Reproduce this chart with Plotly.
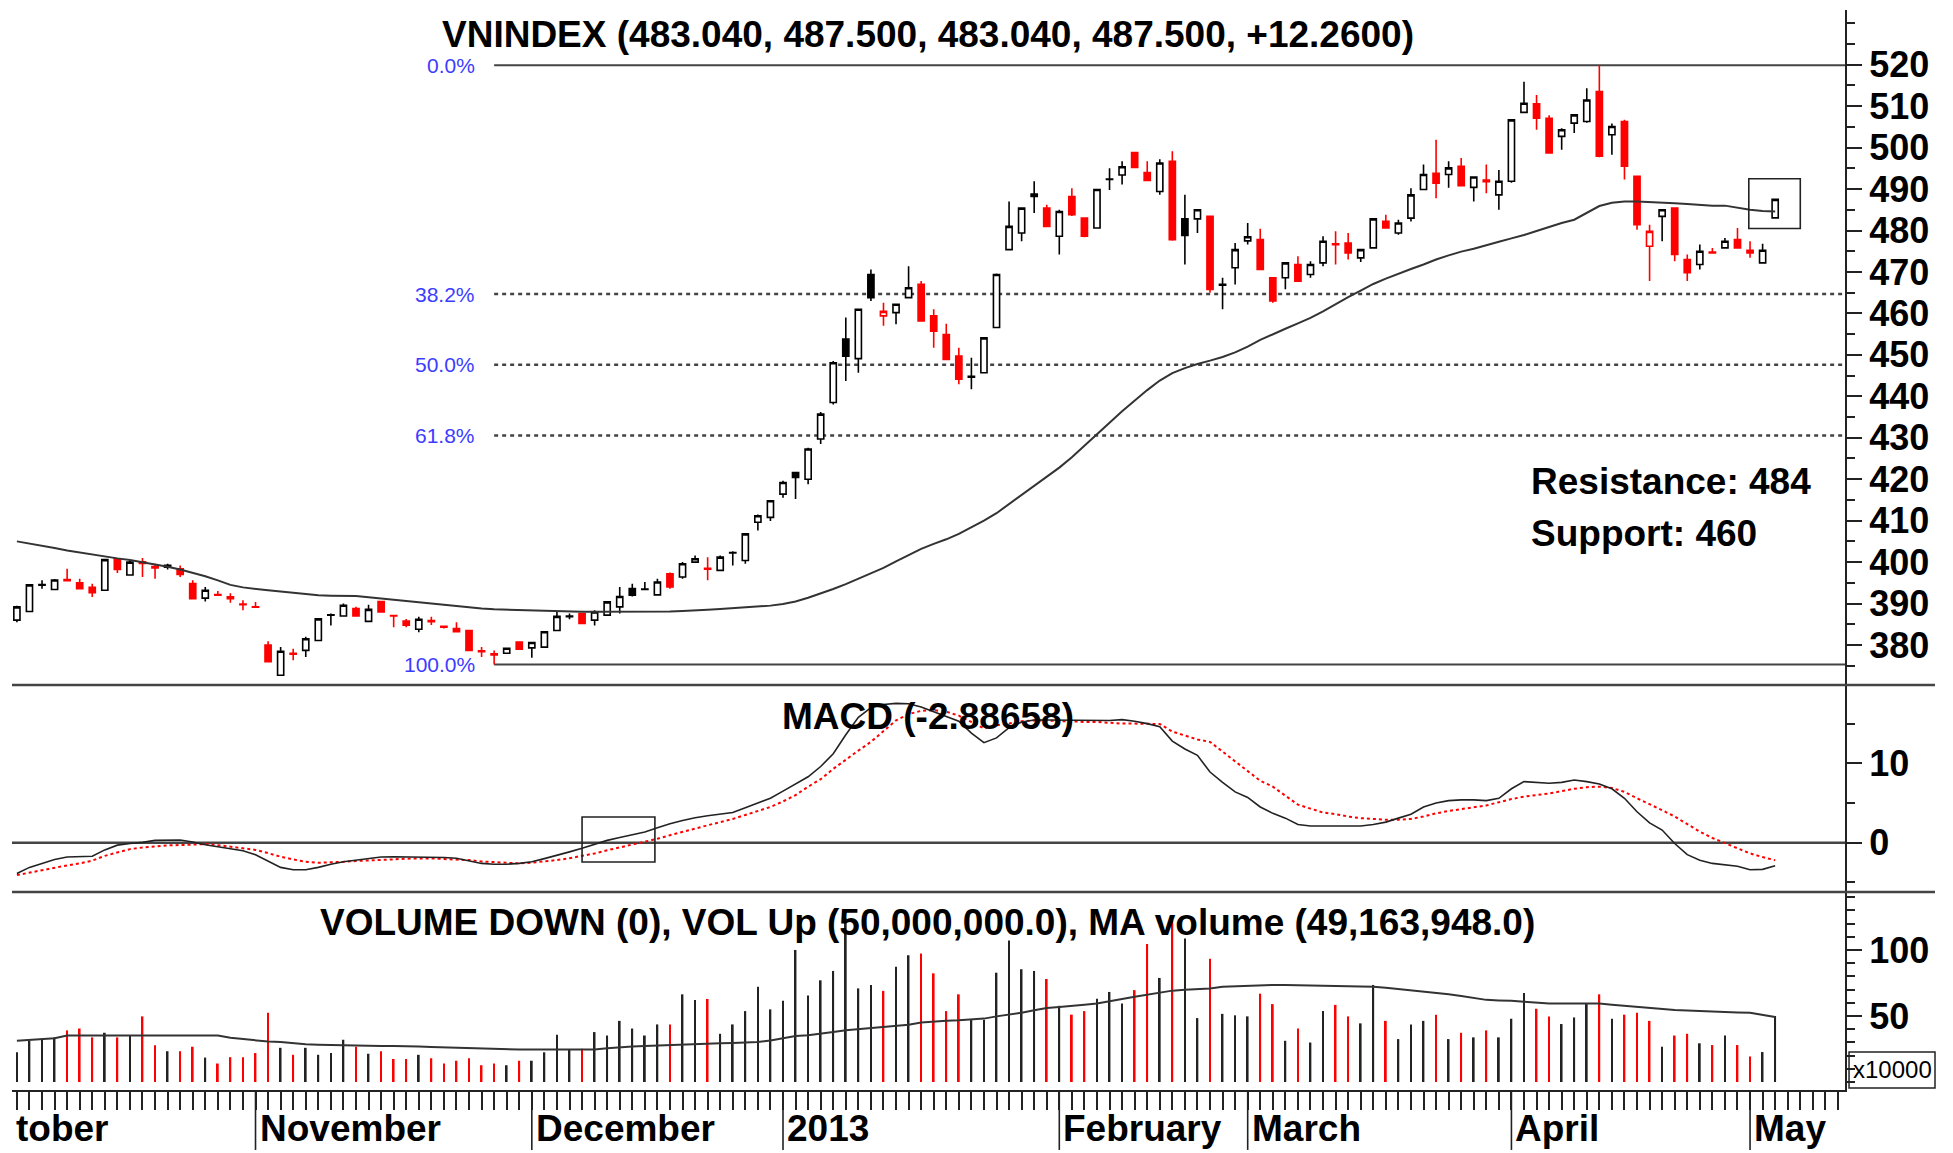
import plotly.graph_objects as go

# ---------------- data ----------------
open_ = [386.0, 388.1, 394.4, 393.4, 395.8, 395.0, 393.9, 393.2, 400.8, 396.9,
         400.1, 398.9, 399.2, 398.4, 394.8, 391.3, 392.2, 391.6, 389.9, 389.2,
         380.0, 372.7, 378.0, 378.7, 381.1, 387.2, 387.0, 388.8, 385.7, 390.5,
         387.1, 385.8, 383.8, 385.9, 384.5, 384.0, 383.5, 378.6, 377.9, 378.0,
         380.7, 379.3, 379.5, 383.5, 386.8, 387.6, 386.0, 387.2, 389.2, 393.6,
         393.4, 392.1, 397.2, 396.4, 400.0, 398.5, 398.0, 402.2, 400.4, 409.6,
         410.8, 416.4, 421.6, 420.0, 429.7, 438.5, 453.8, 449.1, 469.4, 459.4,
         460.2, 463.8, 467.0, 459.4, 454.9, 449.7, 444.6, 445.7, 456.6, 475.4,
         479.4, 488.2, 485.4, 478.6, 488.2, 483.0, 480.6, 492.3, 493.4, 498.8,
         494.0, 489.4, 496.7, 482.8, 482.8, 483.4, 466.8, 471.0, 477.5, 477.8,
         468.6, 468.6, 471.8, 469.4, 472.2, 476.8, 477.0, 473.4, 475.8, 482.2,
         479.4, 483.0, 489.9, 493.8, 493.5, 495.5, 490.4, 492.2, 488.6, 491.9,
         508.5, 510.6, 507.1, 502.7, 505.9, 506.3, 513.5, 503.1, 506.3, 493.1,
         476.2, 483.4, 485.4, 473.0, 471.8, 474.8, 475.8, 477.8, 475.2, 472.2,
         483.04]
high = [389.5, 394.7, 395.6, 395.9, 398.4, 396.0, 394.8, 400.8, 401.0, 400.3,
        401.0, 399.6, 399.6, 399.2, 395.6, 394.0, 393.0, 392.5, 390.8, 390.4,
        380.9, 379.5, 379.1, 382.0, 386.5, 387.6, 390.0, 389.2, 389.7, 390.6,
        387.3, 386.3, 386.8, 386.8, 384.7, 385.5, 383.6, 379.5, 378.7, 379.3,
        380.9, 380.8, 383.4, 388.0, 387.6, 387.8, 388.4, 390.6, 394.0, 394.8,
        395.2, 396.0, 397.5, 400.0, 401.6, 401.2, 401.6, 402.6, 407.0, 411.5,
        415.0, 419.6, 421.8, 427.6, 436.2, 448.5, 459.0, 461.2, 470.6, 462.6,
        462.4, 471.4, 467.8, 461.0, 457.5, 451.7, 449.3, 454.3, 469.6, 487.0,
        485.6, 491.9, 486.2, 485.0, 490.2, 483.2, 490.1, 495.0, 496.7, 499.0,
        496.7, 497.2, 499.1, 488.6, 485.2, 483.6, 468.6, 477.0, 481.8, 480.4,
        468.8, 472.4, 473.8, 472.6, 478.6, 479.8, 479.4, 475.6, 483.0, 483.8,
        482.6, 490.2, 495.9, 501.9, 496.7, 497.5, 492.9, 495.9, 494.6, 506.9,
        515.9, 512.7, 507.8, 504.7, 508.1, 514.3, 519.9, 505.8, 506.7, 493.3,
        481.4, 485.2, 485.6, 474.2, 476.6, 475.8, 478.2, 480.6, 477.4, 476.8,
        487.5]
low = [385.5, 388.0, 393.6, 393.2, 395.3, 393.4, 391.6, 393.0, 397.4, 396.7,
       396.4, 396.0, 398.2, 396.4, 391.0, 390.5, 391.9, 390.2, 388.4, 389.0,
       375.9, 372.5, 376.3, 377.1, 380.9, 384.7, 386.8, 386.9, 385.5, 387.9,
       384.3, 384.3, 383.1, 384.8, 384.0, 383.0, 378.5, 377.1, 375.3, 378.0,
       378.8, 376.9, 379.3, 383.3, 386.2, 385.0, 384.7, 387.0, 387.6, 391.7,
       393.2, 392.0, 393.6, 396.0, 399.8, 395.6, 397.9, 399.2, 399.6, 407.6,
       409.9, 415.5, 415.2, 418.8, 428.5, 438.0, 443.7, 445.7, 463.0, 457.0,
       457.4, 463.6, 458.0, 451.7, 448.7, 442.9, 441.7, 445.5, 456.4, 475.3,
       477.4, 484.2, 480.8, 474.2, 483.5, 478.4, 480.4, 489.8, 491.1, 495.0,
       491.9, 488.6, 477.5, 471.8, 479.4, 465.0, 461.0, 467.0, 476.6, 470.4,
       462.6, 465.8, 467.6, 468.6, 471.4, 471.8, 473.0, 472.4, 475.6, 480.4,
       479.0, 482.2, 489.7, 487.8, 490.3, 490.6, 487.0, 489.0, 485.0, 491.5,
       508.3, 504.3, 498.5, 499.5, 503.5, 506.0, 497.7, 498.3, 492.3, 480.2,
       467.8, 477.4, 472.6, 467.8, 470.6, 474.5, 475.7, 475.6, 473.4, 472.0,
       483.04]
close = [389.2, 394.5, 394.6, 395.7, 395.5, 393.6, 392.6, 400.6, 398.2, 400.0,
         399.7, 398.6, 398.8, 397.0, 391.2, 393.2, 392.0, 391.2, 389.7, 389.1,
         376.0, 378.5, 377.8, 381.5, 386.3, 387.3, 389.6, 387.0, 388.6, 388.0,
         387.0, 384.8, 386.2, 385.6, 384.3, 383.2, 378.7, 378.4, 377.6, 379.2,
         379.0, 380.6, 383.2, 386.9, 387.0, 385.2, 388.0, 390.4, 391.7, 392.0,
         393.5, 395.2, 394.0, 399.6, 400.8, 398.3, 401.2, 402.3, 406.8, 411.2,
         414.8, 419.2, 420.4, 427.3, 435.7, 448.1, 449.7, 461.0, 463.8, 460.5,
         462.2, 466.2, 458.2, 455.7, 448.9, 444.1, 444.8, 454.1, 469.4, 481.0,
         485.4, 488.8, 481.0, 484.6, 483.8, 478.6, 489.9, 492.4, 495.4, 495.2,
         492.1, 496.3, 477.8, 478.8, 485.0, 465.8, 467.0, 475.4, 478.5, 470.6,
         463.0, 472.2, 467.8, 471.8, 477.4, 476.6, 474.6, 475.4, 482.8, 480.6,
         481.8, 488.6, 493.5, 491.4, 495.1, 490.8, 492.9, 491.8, 491.9, 506.7,
         510.7, 507.1, 498.7, 504.3, 507.9, 511.5, 497.9, 505.1, 495.5, 481.4,
         479.8, 485.0, 474.2, 469.8, 475.0, 474.6, 477.4, 475.8, 474.6, 475.24,
         487.5]
ma_price = [405.0, 404.5, 404.0, 403.4, 402.8, 402.3, 401.8, 401.4, 400.9, 400.5,
            400.0, 399.5, 398.9, 398.2, 397.4, 396.6, 395.6, 394.5, 393.9, 393.5,
            393.2, 392.9, 392.6, 392.3, 392.0, 391.9, 391.9, 391.8, 391.5, 391.2,
            390.9, 390.6, 390.3, 390.0, 389.7, 389.4, 389.0, 388.8, 388.6, 388.5,
            388.4, 388.4, 388.3, 388.2, 388.1, 388.0, 388.0, 388.0, 388.0, 388.0,
            388.1, 388.1, 388.1, 388.2, 388.3, 388.5, 388.7, 388.9, 389.0, 389.2,
            389.5, 389.9, 390.5, 391.4, 392.4, 393.5, 394.7, 396.0, 397.2, 398.6,
            400.2, 401.8, 403.2, 404.4, 405.5, 406.8, 408.3, 410.0, 411.8, 414.0,
            416.3, 418.6, 420.8, 422.8, 425.3, 428.0, 430.8, 433.6, 436.4, 439.0,
            441.5, 443.8, 445.6, 446.8, 447.8, 448.6, 449.5, 450.6, 452.0, 453.6,
            455.0, 456.3, 457.6, 458.9, 460.5, 462.3, 463.9, 465.5, 467.1, 468.4,
            469.6, 470.7, 471.8, 473.0, 474.0, 474.9, 475.6, 476.5, 477.3, 478.1,
            478.9, 479.9, 480.9, 481.8, 482.6, 484.2, 485.9, 486.7, 487.0, 487.0,
            486.9, 486.8, 486.6, 486.4, 486.2, 486.0, 486.0, 485.5, 485.0, 484.7,
            484.6]
macd = [-3.86, -3.1, -2.6, -2.1, -1.8, -1.76, -1.7, -0.9, -0.3, -0.1,
        0.05, 0.3, 0.35, 0.35, 0.1, -0.25, -0.5, -0.75, -1.0, -1.5,
        -2.3, -3.1, -3.4, -3.4, -3.1, -2.7, -2.4, -2.2, -2.0, -1.8,
        -1.76, -1.76, -1.76, -1.76, -1.85, -1.95, -2.3, -2.6, -2.7, -2.7,
        -2.6, -2.4, -2.0, -1.6, -1.15, -0.7, -0.15, 0.3, 0.65, 1.0,
        1.35, 1.9, 2.4, 2.8, 3.15, 3.4, 3.6, 3.8, 4.4, 5.0,
        5.6, 6.5, 7.4, 8.3, 9.6, 11.2, 13.6, 15.8, 17.0, 17.4,
        17.55, 17.5, 17.1, 16.5, 15.9, 15.3, 13.8, 12.6, 13.2, 14.5,
        15.2, 15.45, 15.45, 15.45, 15.45, 15.4, 15.37, 15.4, 15.5, 15.3,
        15.0, 14.6, 12.8, 11.8, 11.0, 8.9, 7.6, 6.4, 5.7, 4.5,
        3.7, 3.1, 2.3, 2.1, 2.1, 2.1, 2.1, 2.1, 2.3, 2.6,
        3.1, 3.6, 4.5, 5.0, 5.3, 5.4, 5.4, 5.3, 5.6, 6.8,
        7.7, 7.6, 7.5, 7.6, 7.9, 7.7, 7.4, 6.8, 5.6, 3.9,
        2.5, 1.6, -0.1, -1.5, -2.2, -2.6, -2.75, -2.95, -3.4, -3.35,
        -2.88658]
signal = [-4.07, -3.75, -3.4, -3.1, -2.85, -2.6, -2.25, -1.65, -1.2, -0.8,
          -0.6, -0.45, -0.33, -0.29, -0.2, -0.17, -0.3, -0.5, -0.65, -0.9,
          -1.3, -1.76, -2.1, -2.4, -2.52, -2.5, -2.4, -2.3, -2.26, -2.2,
          -2.1, -2.0, -1.97, -1.97, -2.05, -2.1, -2.18, -2.35, -2.45, -2.55,
          -2.6, -2.5, -2.35, -2.18, -1.95, -1.65, -1.34, -0.95, -0.6, -0.25,
          0.1, 0.5, 0.95, 1.39, 1.8, 2.2, 2.6, 3.0, 3.5, 4.0,
          4.5, 5.2, 6.0, 7.06, 8.0, 9.3, 10.5, 11.6, 12.7, 14.1,
          15.4, 16.2, 16.6, 16.7, 16.5, 16.0, 15.2, 14.4, 14.8, 15.0,
          15.3, 15.4, 15.4, 15.3, 15.3, 15.2, 15.2, 15.1, 15.0, 15.0,
          15.0, 14.95, 14.0, 13.5, 13.0, 12.7, 11.5, 10.2, 9.0, 7.8,
          7.06, 5.9, 4.8, 4.3, 3.8, 3.6, 3.3, 3.1, 3.0, 2.9,
          2.9, 3.0, 3.3, 3.7, 4.0, 4.25, 4.5, 4.7, 5.1, 5.5,
          5.8, 6.0, 6.2, 6.5, 6.8, 7.0, 7.06, 6.9, 6.4, 5.6,
          4.9, 4.1, 3.3, 2.3, 1.4, 0.6, -0.08, -0.7, -1.34, -1.8,
          -2.2]
volume = [22.5, 31.2, 33.0, 33.8, 39.1, 40.5, 33.8, 37.3, 33.8, 35.2,
          49.7, 27.8, 23.3, 23.3, 26.7, 18.5, 14.0, 18.8, 18.8, 21.9,
          52.4, 25.9, 20.6, 25.9, 20.6, 21.9, 32.0, 26.7, 21.4, 23.3,
          17.4, 17.4, 20.6, 18.0, 14.0, 16.1, 18.0, 12.7, 14.0, 12.7,
          16.1, 16.1, 22.5, 35.7, 24.6, 25.1, 37.8, 35.2, 46.3, 40.5,
          35.2, 43.6, 43.6, 66.4, 62.1, 62.9, 36.5, 43.6, 53.7, 72.2,
          55.0, 61.6, 100.0, 65.6, 77.0, 84.1, 124.0, 70.9, 73.5, 69.0,
          87.3, 96.0, 97.3, 82.3, 53.7, 66.4, 47.5, 47.1, 82.8, 107.1,
          85.4, 84.1, 78.0, 57.7, 51.0, 53.7, 63.0, 68.2, 59.5, 69.6,
          104.5, 78.8, 126.4, 108.7, 48.4, 93.4, 51.6, 50.5, 49.7, 66.9,
          59.0, 31.2, 40.5, 29.9, 53.7, 58.4, 49.7, 44.4, 73.5, 46.3,
          32.5, 43.6, 46.3, 51.0, 32.5, 37.3, 33.8, 39.1, 33.8, 47.9,
          67.4, 55.5, 49.7, 43.9, 48.9, 59.5, 66.4, 47.9, 51.0, 52.4,
          46.3, 26.7, 35.2, 36.5, 29.3, 28.0, 35.2, 28.0, 19.3, 22.7,
          50.0]
ma_volume = [31.2, 31.8, 32.5, 33.1, 35.2, 35.2, 35.2, 35.2, 35.2, 35.2,
             35.2, 35.2, 35.2, 35.2, 35.2, 35.2, 35.2, 33.5, 32.5, 32.0,
             30.6, 30.2, 29.2, 28.6, 28.3, 28.0, 27.8, 27.6, 27.4, 27.3,
             27.2, 27.2, 26.8, 26.5, 26.2, 26.0, 25.8, 25.2, 24.8, 24.6,
             24.6, 24.6, 24.6, 24.6, 24.6, 24.6, 24.6, 25.5, 26.3, 26.8,
             27.2, 27.6, 28.1, 28.6, 29.1, 29.2, 29.4, 29.6, 29.8, 30.3,
             31.5, 33.0, 34.8, 35.5, 36.5, 37.8, 39.2, 40.0, 41.0, 42.0,
             42.7, 43.3, 45.0, 45.8, 46.3, 46.7, 47.1, 48.0, 49.7, 51.0,
             52.4, 54.3, 56.0, 56.8, 57.5, 58.6, 59.5, 61.0, 62.8, 64.6,
             66.3, 68.0, 69.2, 69.9, 70.5, 70.9, 72.2, 72.6, 73.0, 73.3,
             73.5, 73.5, 73.4, 73.3, 73.1, 72.9, 72.6, 72.3, 72.2, 71.4,
             70.5, 69.6, 68.6, 67.5, 66.5, 65.1, 63.8, 62.2, 61.8, 61.6,
             60.8, 60.1, 59.5, 59.5, 59.5, 59.5, 59.5, 58.6, 57.7, 56.9,
             55.9, 55.0, 54.6, 54.2, 53.7, 53.4, 53.0, 52.7, 52.4, 51.0,
             49.163948]

price_ticks = [380, 390, 400, 410, 420, 430, 440, 450, 460, 470, 480, 490, 500, 510, 520]
macd_ticks = [0, 10]
volume_ticks = [50, 100]
month_pos = [19, 41, 61, 83, 98, 119, 138]
month_labels = ["November", "December", "2013", "February", "March", "April", "May"]
first_label = "tober"
fib_levels = [0.0, 38.2, 50.0, 61.8, 100.0]
fib_start = 38          # candle whose low anchors the retracement
resistance = 484
support = 460

# ---------------- layout constants ----------------
W, H = 1953, 1153
XR = [-0.39, 145.56]
SANS = "Liberation Sans, Arial, sans-serif"
RED = "#ff0000"
BLUE = "#3c3cff"
D_PRICE = [0.37156, 0.99083]
D_MACD = [0.18165, 0.37156]
D_VOL = [0.0, 0.18165]
BIG = 37

n = len(close)
idx = list(range(n))
is_up = [i == 0 or close[i] >= close[i - 1] for i in idx]

fig = go.Figure()


def candles(sel, color):
    xs = [i for i in idx if sel(i)]
    fig.add_trace(go.Candlestick(
        x=xs, open=[open_[i] for i in xs], high=[high[i] for i in xs],
        low=[low[i] for i in xs], close=[close[i] for i in xs],
        increasing=dict(line=dict(color=color, width=1.6), fillcolor="white"),
        decreasing=dict(line=dict(color=color, width=1.6), fillcolor=color),
        whiskerwidth=0, hoverinfo="skip", showlegend=False,
        xaxis="x", yaxis="y"))


fig.add_trace(go.Scatter(x=idx, y=ma_price, mode="lines",
                         line=dict(color="#333333", width=2), hoverinfo="skip",
                         showlegend=False, xaxis="x", yaxis="y"))
candles(lambda i: is_up[i], "black")
candles(lambda i: not is_up[i], RED)

# MACD
fig.add_trace(go.Scatter(x=idx, y=signal, mode="lines",
                         line=dict(color=RED, width=2, dash="3px,3px"),
                         hoverinfo="skip", showlegend=False, xaxis="x", yaxis="y2"))
fig.add_trace(go.Scatter(x=idx, y=macd, mode="lines",
                         line=dict(color="#222222", width=1.6),
                         hoverinfo="skip", showlegend=False, xaxis="x", yaxis="y2"))

# Volume
up_x = [i for i in idx if is_up[i]]
dn_x = [i for i in idx if not is_up[i]]
fig.add_trace(go.Bar(x=up_x, y=[volume[i] for i in up_x], width=0.14,
                     marker=dict(color="#222222", line=dict(width=0)),
                     hoverinfo="skip", showlegend=False, xaxis="x", yaxis="y3"))
fig.add_trace(go.Bar(x=dn_x, y=[volume[i] for i in dn_x], width=0.14,
                     marker=dict(color=RED, line=dict(width=0)),
                     hoverinfo="skip", showlegend=False, xaxis="x", yaxis="y3"))
fig.add_trace(go.Scatter(x=idx, y=ma_volume, mode="lines",
                         line=dict(color="#333333", width=2),
                         hoverinfo="skip", showlegend=False, xaxis="x", yaxis="y3"))

shapes = []
annotations = []

# Fibonacci retracement
fib_hi = max(high)
fib_lo = low[fib_start]
for lv in fib_levels:
    p = fib_hi - lv / 100.0 * (fib_hi - fib_lo)
    solid = lv in (0.0, 100.0)
    shapes.append(dict(type="line", xref="x", yref="y", x0=fib_start, x1=XR[1], y0=p, y1=p,
                       line=dict(color="#444444", width=2 if solid else 2.5,
                                 dash="solid" if solid else "4px,4px"), layer="below"))
    annotations.append(dict(xref="x", yref="y", x=36.6, y=p, text=f"{lv:.1f}%",
                            showarrow=False, xanchor="right", yanchor="middle",
                            font=dict(family=SANS, size=21, color=BLUE)))

# MACD zero line
shapes.append(dict(type="line", xref="paper", yref="y2", x0=0, x1=1, y0=0, y1=0,
                   line=dict(color="#444444", width=2.5), layer="below"))
# panel separators
for yy in (D_PRICE[0], D_MACD[0]):
    shapes.append(dict(type="line", xref="paper", yref="paper", x0=0, x1=1.0491, y0=yy, y1=yy,
                       line=dict(color="#444444", width=2.5)))
# highlight boxes
shapes.append(dict(type="rect", xref="x", yref="y", x0=137.9, x1=142.0, y0=480.5, y1=492.5,
                   line=dict(color="#222222", width=1.6)))
shapes.append(dict(type="rect", xref="x", yref="y2", x0=45.0, x1=50.8, y0=-2.43, y1=3.24,
                   line=dict(color="#222222", width=1.6)))
# month separators below the axis
for m in month_pos:
    shapes.append(dict(type="line", xref="x", yref="paper", x0=m, x1=m, y0=0, y1=-0.055,
                       line=dict(color="#222222", width=1.6)))
# x10000 box
shapes.append(dict(type="rect", xref="paper", yref="paper", x0=1.0022, x1=1.0491,
                   y0=0.0018, y1=0.0349, line=dict(color="#222222", width=1.5)))

# month labels
MONTH_Y = -0.0355
annotations.append(dict(xref="paper", yref="paper", x=0.0, y=MONTH_Y, text=first_label,
                        showarrow=False, xanchor="left", yanchor="middle", xshift=2,
                        font=dict(family=SANS, size=BIG, color="black", weight="bold")))
for m, lab in zip(month_pos, month_labels):
    annotations.append(dict(xref="x", yref="paper", x=m, y=MONTH_Y, text=lab,
                            showarrow=False, xanchor="left", yanchor="middle", xshift=2,
                            font=dict(family=SANS, size=BIG, color="black", weight="bold")))

# panel titles
title_txt = (f"VNINDEX ({open_[-1]:.3f}, {high[-1]:.3f}, {low[-1]:.3f}, "
             f"{close[-1]:.3f}, {close[-1] - close[-2]:+.4f})")
vol_up_last = volume[-1] if is_up[-1] else 0
vol_dn_last = 0 if is_up[-1] else volume[-1]
macd_txt = f"MACD ({macd[-1]:.5f})"
vol_txt = (f"VOLUME DOWN ({vol_dn_last * 1e6:,.0f}), VOL Up ({vol_up_last * 1e6:,.1f}), "
           f"MA volume ({ma_volume[-1] * 1e6:,.1f})")
for txt, yy in ((title_txt, 0.968), (macd_txt, 0.343), (vol_txt, 0.154)):
    annotations.append(dict(xref="paper", yref="paper", x=0.4997, y=yy, text=txt,
                            showarrow=False, xanchor="center", yanchor="middle",
                            font=dict(family=SANS, size=BIG, color="black", weight="bold")))

annotations.append(dict(xref="paper", yref="paper", x=0.8276, y=0.5578,
                        text=f"Resistance: {resistance}", showarrow=False,
                        xanchor="left", yanchor="middle",
                        font=dict(family=SANS, size=37, color="black", weight="bold")))
annotations.append(dict(xref="paper", yref="paper", x=0.8276, y=0.511,
                        text=f"Support: {support}", showarrow=False,
                        xanchor="left", yanchor="middle",
                        font=dict(family=SANS, size=37, color="black", weight="bold")))
annotations.append(dict(xref="paper", yref="paper", x=1.0035, y=0.0184, text="x10000",
                        showarrow=False, xanchor="left", yanchor="middle",
                        font=dict(family=SANS, size=24, color="black")))

tickfont = dict(family=SANS, size=36, color="black", weight="bold")


def yax(domain, rng, tv, minor_dt):
    return dict(domain=domain, range=rng, side="right", anchor="x",
                showline=True, linecolor="#222222", linewidth=2,
                tickmode="array", tickvals=tv, ticktext=[str(t) for t in tv],
                ticks="outside", ticklen=15, tickwidth=1.6, tickcolor="#222222",
                minor=dict(tickmode="linear", tick0=0, dtick=minor_dt, ticks="outside",
                           ticklen=8, tickwidth=1.6, tickcolor="#222222"),
                tickfont=tickfont, showgrid=False, zeroline=False, fixedrange=True)


fig.update_layout(
    width=W, height=H,
    margin=dict(l=12, r=108, t=0, b=63, autoexpand=False),
    paper_bgcolor="white", plot_bgcolor="white",
    showlegend=False, barmode="overlay", hovermode=False,
    xaxis=dict(domain=[0, 1], range=XR, anchor="y3", showline=True, linecolor="#222222",
               linewidth=2, ticks="outside", tickmode="linear", tick0=0, dtick=1,
               ticklen=18, tickwidth=1.6, tickcolor="#222222", showticklabels=False,
               showgrid=False, zeroline=False, rangeslider=dict(visible=False)),
    yaxis=yax(D_PRICE, [370.35, 533.2], price_ticks, 5),
    yaxis2=yax(D_MACD, [-6.2, 19.86], macd_ticks, 5),
    yaxis3=yax(D_VOL, [-6.06, 143.9], volume_ticks, 10),
    shapes=shapes, annotations=annotations,
)

fig.write_html("out.html")
